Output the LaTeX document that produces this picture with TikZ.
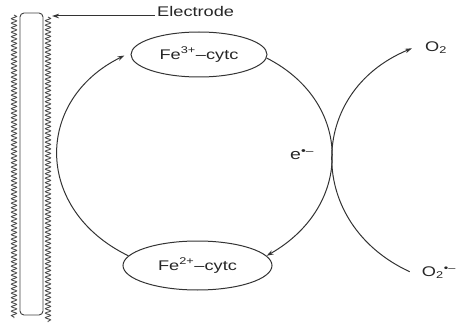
\documentclass[tikz,border=0pt]{standalone}
\usepackage{fontspec}
\setmainfont{Liberation Sans}
\usepackage{graphicx}
\usetikzlibrary{arrows.meta,calc,shapes.geometric,decorations.pathmorphing}
\newcommand\tx[1]{\scalebox{1.3}[1]{#1}}
\tikzset{
  ln/.style={line width=1pt, draw=black!80},
  arr/.style={ln, -{Stealth[length=7pt,width=4.5pt]}},
  lbl/.style={inner sep=0pt, font=\fontsize{14}{16}\selectfont, text=black!85},
  ov/.style={ellipse, ln, inner sep=0pt, font=\fontsize{14}{16}\selectfont, text=black!85},
  wave/.style={line width=0.9pt, draw=black!70, decorate, decoration={snake, segment length=4.5pt, amplitude=2.6pt}}
}
\begin{document}
\begin{tikzpicture}[x=1pt,y=-1pt]
\useasboundingbox (0,0) rectangle (461,329);
% electrode
\node[draw, line width=0.9pt, draw=black!75, rounded corners=4pt, minimum width=23pt, minimum height=302pt, inner sep=0pt] (elec) at (31.5,164) {};
\draw[wave] (14,15) -- (14,318);
\draw[wave] (48,17) -- (48,322);
\node[lbl, anchor=base west] (el) at (157,17) {\tx{Electrode}};
\coordinate (tip) at (52,16);
\draw[arr] ($(el.base west)+(-2,-1)$) -- (tip);
% cytochrome ellipses
\node[ov, minimum width=136pt, minimum height=45pt] (fe3) at (199,54.5) {\tx{Fe\textsuperscript{3+}–cytc}\hspace{16pt}};
\node[ov, minimum width=149pt, minimum height=49pt] (fe2) at (197.5,265.5) {\tx{Fe\textsuperscript{2+}–cytc}};
% cycle
\draw[arr] (fe2.172) .. controls (34,210) and (34,100) .. ($(fe3.west)+(-6,1)$);
\draw[arr] (fe3.-3) .. controls (353,102) and (354,206) .. (fe2.8);
% electron
\node[lbl, anchor=base west, font=\fontsize{15}{17}\selectfont] (e) at (290,160) {\tx{e\textsuperscript{•–}}};
% oxygen
\node[lbl, anchor=base west] (o2) at (425,51.7) {\tx{O\textsubscript{2}}};
\node[lbl, anchor=base west] (o2m) at (421.7,276.7) {\tx{O\textsubscript{2}\textsuperscript{•–}}};
\draw[arr] ($(o2m.base west)+(-12,-5)$) .. controls (306,224) and (306,92) .. ($(o2.base west)+(-13,-3.4)$);
\end{tikzpicture}
\end{document}
